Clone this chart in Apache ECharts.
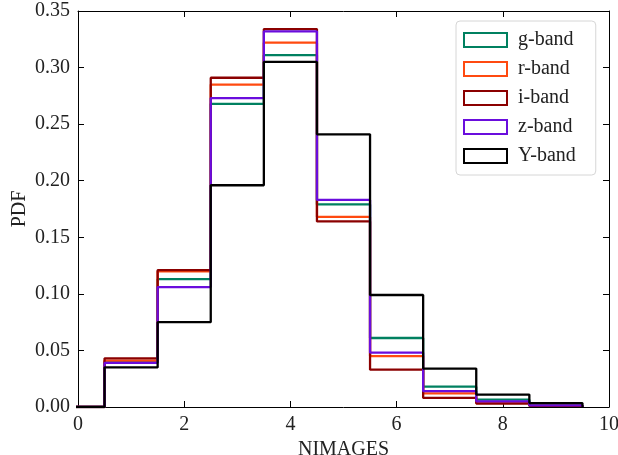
<!DOCTYPE html>
<html>
<head>
<meta charset="utf-8">
<script src="https://cdn.jsdelivr.net/npm/echarts@6/dist/echarts.min.js"></script>
<style>html,body{margin:0;padding:0;background:#fff;}#c{width:618px;height:455px;}</style>
</head>
<body>
<div id="c"></div>
<script>
// bin centers (NIMAGES), bin width 1
const binCenters = [0, 1, 2, 3, 4, 5, 6, 7, 8, 9];
const bandNames = ['g-band', 'r-band', 'i-band', 'z-band', 'Y-band'];
const gBand = [0, 0.040, 0.113, 0.268, 0.311, 0.179, 0.061, 0.018, 0.0065, 0.001];
const rBand = [0, 0.041, 0.120, 0.285, 0.322, 0.168, 0.045, 0.012, 0.004, 0.001];
const iBand = [0, 0.043, 0.121, 0.291, 0.334, 0.164, 0.033, 0.008, 0.003, 0.001];
const zBand = [0, 0.039, 0.106, 0.273, 0.332, 0.183, 0.048, 0.014, 0.005, 0.0015];
const yBand = [0, 0.035, 0.075, 0.196, 0.305, 0.241, 0.099, 0.034, 0.011, 0.0035];
const xTicks = [0, 2, 4, 6, 8, 10];
const yTicks = [0, 0.05, 0.10, 0.15, 0.20, 0.25, 0.30, 0.35];

const bandValues = [gBand, rBand, iBand, zBand, yBand];
const colors = ['#008060', '#ff4a10', '#8b0000', '#6a0ddd', '#000000'];
const FONT = '"Liberation Serif", "DejaVu Serif", serif';

function stepData(vals) {
  const pts = binCenters.map((c, i) => [c - 0.5, vals[i]]);
  pts.push([binCenters[binCenters.length - 1] + 0.5, 0]);
  return pts;
}

const series = bandNames.map((name, k) => ({
  name: name,
  type: 'line',
  step: 'end',
  data: stepData(bandValues[k]),
  showSymbol: false,
  symbol: 'none',
  clip: true,
  lineStyle: { color: colors[k], width: 2.3 },
  itemStyle: { color: 'transparent', borderColor: colors[k], borderWidth: 2 },
  z: 2 + k
}));

const tickStyle = { show: true, inside: true, length: 6, lineStyle: { color: '#000', width: 1 } };
const lineStyle = { show: true, onZero: false, lineStyle: { color: '#000', width: 1 } };

const chart = echarts.init(document.getElementById('c'), null, { renderer: 'canvas' });
chart.setOption({
  animation: false,
  backgroundColor: '#fff',
  textStyle: { fontFamily: FONT },
  grid: { left: 78, right: 9, top: 11, bottom: 48, containLabel: false, outerBoundsMode: 'none' },
  legend: {
    orient: 'vertical',
    left: 456, top: 21,
    padding: [9, 20, 9, 7],
    itemWidth: 43, itemHeight: 14, itemGap: 9,
    backgroundColor: 'rgba(255,255,255,0.85)',
    borderColor: '#d6d6d6', borderWidth: 1, borderRadius: 4,
    icon: 'rect',
    textStyle: { fontFamily: FONT, fontSize: 20, color: '#222', padding: [0, 0, 0, 6] },
    data: bandNames.map((n, k) => ({
      name: n, icon: 'rect',
      itemStyle: { color: 'transparent', borderColor: colors[k], borderWidth: 2 }
    }))
  },
  xAxis: [{
    type: 'value', min: 0, max: 10, interval: 2,
    name: 'NIMAGES', nameLocation: 'middle', nameGap: 30,
    nameTextStyle: { fontFamily: FONT, fontSize: 20, color: '#222' },
    axisLine: lineStyle, axisTick: tickStyle, splitLine: { show: false },
    axisLabel: { fontFamily: FONT, fontSize: 20, color: '#222', margin: 8,
      formatter: v => (xTicks.indexOf(v) >= 0 ? String(v) : '') }
  }, {
    type: 'value', min: 0, max: 10, interval: 2, position: 'top',
    axisLine: lineStyle, axisTick: tickStyle, axisLabel: { show: false }, splitLine: { show: false }
  }],
  yAxis: [{
    type: 'value', min: 0, max: 0.35, interval: 0.05,
    name: 'PDF', nameLocation: 'middle', nameGap: 48, nameRotate: 90, nameMoveOverlap: false,
    nameTextStyle: { fontFamily: FONT, fontSize: 20, color: '#222' },
    axisLine: lineStyle, axisTick: tickStyle, splitLine: { show: false },
    axisLabel: { fontFamily: FONT, fontSize: 20, color: '#222', margin: 8,
      formatter: v => v.toFixed(2) }
  }, {
    type: 'value', min: 0, max: 0.35, interval: 0.05, position: 'right',
    axisLine: lineStyle, axisTick: tickStyle, axisLabel: { show: false }, splitLine: { show: false }
  }],
  series: series
});
</script>
</body>
</html>
